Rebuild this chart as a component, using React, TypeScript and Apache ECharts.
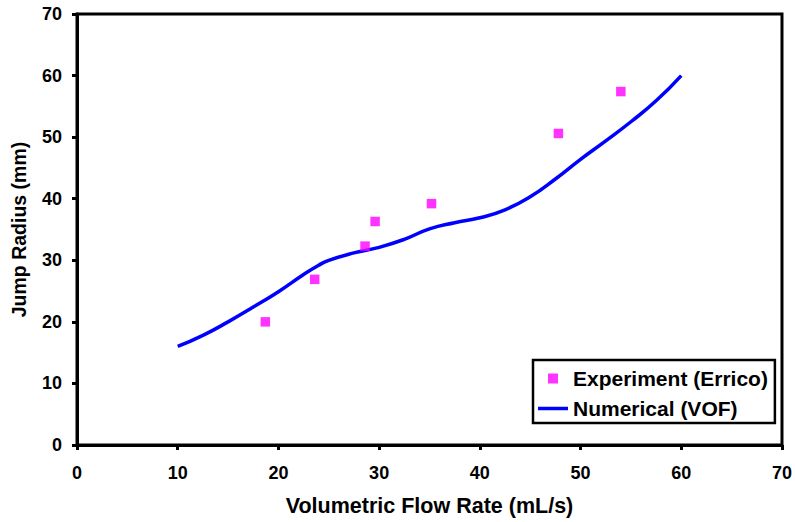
import React, { useEffect, useRef } from "react";
import * as echarts from "echarts";

const expX = [18.7, 23.6, 28.6, 29.6, 35.2, 47.8, 54.0];
const expY = [20.0, 26.9, 32.3, 36.3, 39.2, 50.6, 57.4];
const numX = [10, 12.5, 15, 17.5, 20, 22.5, 24, 25, 27.5, 30, 32.5, 35, 37.5, 40, 42.5, 45, 47.5, 50, 52.5, 55, 57.5, 60];
const numY = [16.0, 17.8, 20.0, 22.4, 24.9, 27.7, 29.2, 30.0, 31.2, 32.1, 33.4, 35.1, 36.1, 36.9, 38.2, 40.3, 43.2, 46.4, 49.4, 52.5, 55.9, 60.0];

const FONT = "Liberation Sans, Arial, sans-serif";

export default function App() {
  const ref = useRef<HTMLDivElement>(null);
  useEffect(() => {
    if (!ref.current) return;
    const chart = echarts.init(ref.current, null, { renderer: "svg" });
    const axisCommon = {
      min: 0,
      max: 70,
      interval: 10,
      splitLine: { show: false },
      axisLine: { show: true, onZero: false, lineStyle: { color: "#000", width: 3 } },
      axisTick: { show: true, inside: false, length: 5, lineStyle: { color: "#000", width: 3 } },
      axisLabel: { color: "#000", fontWeight: "bold", fontSize: 18, fontFamily: FONT },
      nameLocation: "middle",
    };
    chart.setOption({
      animation: false,
      backgroundColor: "#fff",
      grid: { left: 77, right: 11, top: 14, bottom: 75, show: true, borderColor: "#000", borderWidth: 3 },
      xAxis: {
        ...axisCommon,
        type: "value",
        name: "Volumetric Flow Rate (mL/s)",
        nameGap: 50,
        nameTextStyle: { color: "#000", fontWeight: "bold", fontSize: 21.5, fontFamily: FONT },
        axisLabel: { ...axisCommon.axisLabel, margin: 19 },
      },
      yAxis: {
        ...axisCommon,
        type: "value",
        name: "Jump Radius (mm)",
        nameGap: 48,
        nameTextStyle: { color: "#000", fontWeight: "bold", fontSize: 19.5, fontFamily: FONT },
        axisLabel: { ...axisCommon.axisLabel, margin: 15 },
      },
      legend: {
        show: true,
        orient: "vertical",
        left: 533,
        top: 360,
        backgroundColor: "#fff",
        borderColor: "#000",
        borderWidth: 2.5,
        padding: [8, 7, 4, 5],
        itemGap: 9,
        itemWidth: 30,
        itemHeight: 10,
        textStyle: { color: "#000", fontWeight: "bold", fontSize: 21, fontFamily: FONT },
        data: [
          { name: "Experiment (Errico)", icon: "path://M0,0 H10 V10 H0 Z", itemStyle: { color: "#ff00ff" } },
          { name: "Numerical (VOF)", icon: "path://M0,0 H30 V3.5 H0 Z", itemStyle: { color: "#0000ff" } },
        ],
      },
      series: [
        {
          name: "Experiment (Errico)",
          type: "scatter",
          symbol: "rect",
          symbolSize: 9.5,
          itemStyle: { color: "#ff00ff" },
          data: expX.map((x, i) => [x, expY[i]]),
          z: 3,
        },
        {
          name: "Numerical (VOF)",
          type: "line",
          smooth: true,
          showSymbol: false,
          symbol: "none",
          lineStyle: { color: "#0000ff", width: 3.5 },
          itemStyle: { color: "#0000ff" },
          data: numX.map((x, i) => [x, numY[i]]),
          z: 2,
        },
      ],
    });
    return () => chart.dispose();
  }, []);
  return <div ref={ref} style={{ width: 795, height: 522, position: "absolute", left: 0, top: 0 }} />;
}
